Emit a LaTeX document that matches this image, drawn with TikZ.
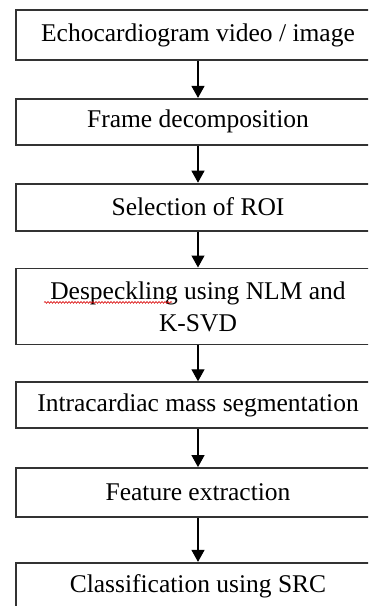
\documentclass[tikz,border=0pt]{standalone}
\usepackage{fontspec}
\setmainfont{Liberation Serif}
\usepackage{tikz}
\usetikzlibrary{positioning,arrows.meta,calc,decorations.pathmorphing}

\begin{document}
\begin{tikzpicture}[x=1pt, y=1pt, node distance=37pt, >={Triangle[length=12pt, width=13pt]},
  stepbox/.style={draw=black!80, line width=1.8pt, minimum width=364pt, minimum height=47pt,
    align=center, inner sep=2pt, font=\fontsize{25.5}{32}\selectfont},
  flow/.style={->, line width=1.2pt}]
\useasboundingbox (0,0) rectangle (368,-606);
\clip (0,0) rectangle (368,-606);
% processing chain, top to bottom
\node[stepbox, minimum height=50pt] (video) at (198,-35) {Echocardiogram video / image};
\node[stepbox, below=of video, minimum height=46pt] (frame) {Frame decomposition};
\node[stepbox, below=of frame] (roi) {Selection of ROI};
\node[stepbox, below=36pt of roi, minimum height=76pt] (despeckle) {Despeckling using NLM and\\K-SVD};
\node[stepbox, below=36pt of despeckle, minimum height=46pt] (segment) {Intracardiac mass segmentation};
\node[stepbox, below=38pt of segment, minimum height=49pt] (feature) {Feature extraction};
\node[stepbox, below=44pt of feature] (classify) {Classification using SRC};
\foreach \a/\b in {video/frame,frame/roi,roi/despeckle,despeckle/segment,segment/feature,feature/classify}
  \draw[flow] (\a)--(\b);
% spell-check squiggle under the first word
\draw[red!85!black, line width=0.6pt, decorate, decoration={snake, amplitude=0.9pt, segment length=3pt}]
  ($(despeckle.west)+(29,4)$) -- ++(128,0);
\end{tikzpicture}
\end{document}
